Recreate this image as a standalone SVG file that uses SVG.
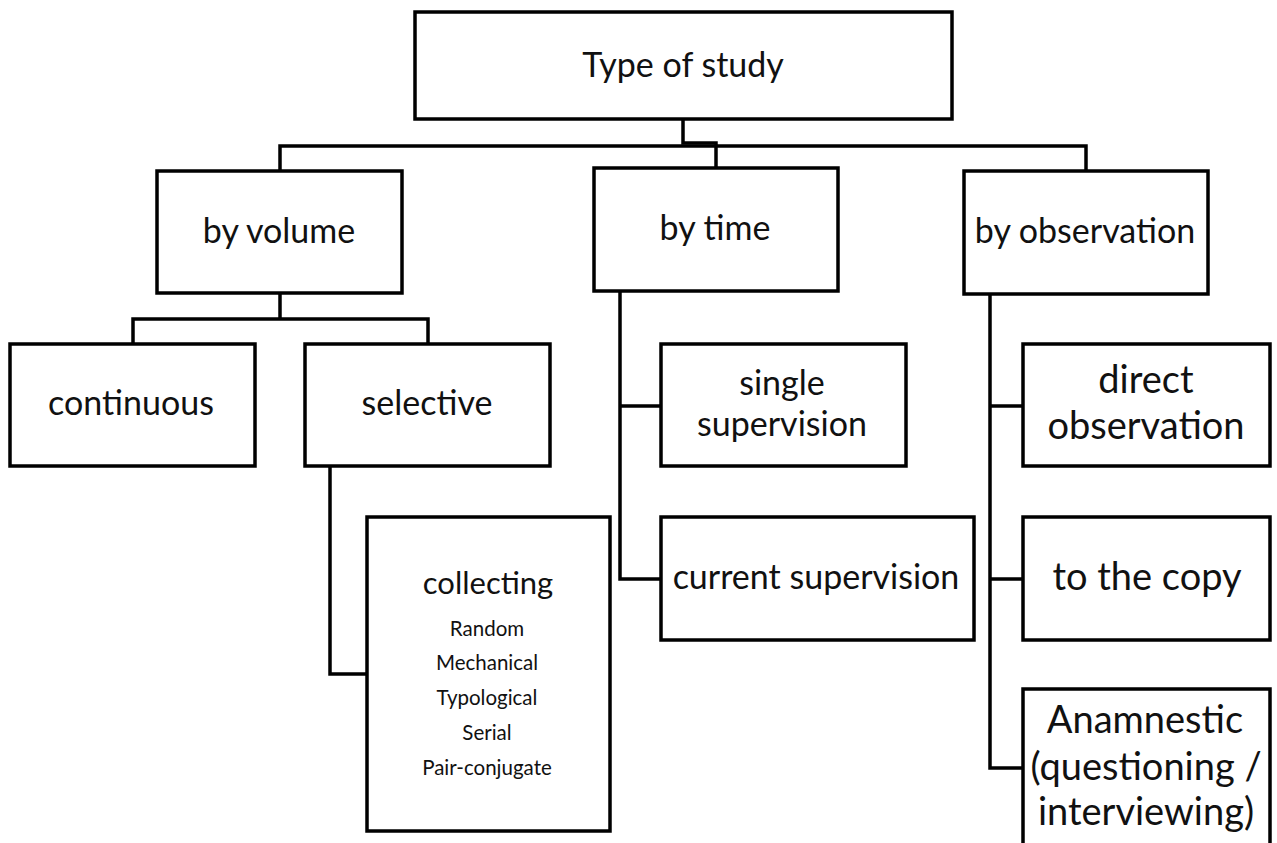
<svg xmlns="http://www.w3.org/2000/svg" width="1277" height="843" viewBox="0 0 1277 843">
  <style>
    .box { fill: #ffffff; stroke: #000000; stroke-width: 3.5; }
    .wire { fill: none; stroke: #000000; stroke-width: 3.5; }
    .t { font-family: Lato, "Open Sans", sans-serif; fill: #111111; text-anchor: middle; }
    .l { font-size: 34px; }
    .m { font-size: 31px; }
    .xl { font-size: 38px; }
    .s { font-size: 20.5px; }
  </style>
  <rect width="1277" height="843" fill="#ffffff"/>

  <!-- connectors -->
  <g id="connectors">
    <path class="wire" d="M683 119 V143 H716 V168"/>
    <path class="wire" d="M280 171 V146 H1086 V171"/>
    <path class="wire" d="M280 293 V319 M133 344 V319 H428 V344"/>
    <path class="wire" d="M330 466 V674 H367"/>
    <path class="wire" d="M620 291 V579 H661 M620 406 H661"/>
    <path class="wire" d="M990 294 V768 H1023 M990 406 H1023 M990 579 H1023"/>
  </g>

  <g id="type-of-study">
    <rect class="box" x="415" y="12" width="537" height="107"/>
    <text class="t l" x="683" y="77">Type of study</text>
  </g>

  <g id="by-volume">
    <rect class="box" x="157" y="171" width="245" height="122"/>
    <text class="t l" x="279" y="243">by volume</text>
  </g>

  <g id="by-time">
    <rect class="box" x="594" y="168" width="244" height="123"/>
    <text class="t l" x="715" y="240">by time</text>
  </g>

  <g id="by-observation">
    <rect class="box" x="964" y="171" width="244" height="123"/>
    <text class="t l" x="1085" y="243">by observation</text>
  </g>

  <g id="continuous">
    <rect class="box" x="10" y="344" width="245" height="122"/>
    <text class="t l" x="131" y="415">continuous</text>
  </g>

  <g id="selective">
    <rect class="box" x="305" y="344" width="245" height="122"/>
    <text class="t l" x="427" y="415">selective</text>
  </g>

  <g id="collecting">
    <rect class="box" x="367" y="517" width="243" height="314"/>
    <text class="t m" x="488" y="594">collecting</text>
    <text class="t s" x="487" y="636">Random</text>
    <text class="t s" x="487" y="670">Mechanical</text>
    <text class="t s" x="487" y="705">Typological</text>
    <text class="t s" x="487" y="740">Serial</text>
    <text class="t s" x="487" y="775">Pair-conjugate</text>
  </g>

  <g id="single-supervision">
    <rect class="box" x="661" y="344" width="245" height="122"/>
    <text class="t l" x="782" y="395">single</text>
    <text class="t l" x="782" y="436">supervision</text>
  </g>

  <g id="current-supervision">
    <rect class="box" x="661" y="517" width="313" height="123"/>
    <text class="t l" x="816" y="589">current supervision</text>
  </g>

  <g id="direct-observation">
    <rect class="box" x="1023" y="344" width="247" height="122"/>
    <text class="t xl" x="1146" y="393">direct</text>
    <text class="t xl" x="1146" y="439">observation</text>
  </g>

  <g id="to-the-copy">
    <rect class="box" x="1023" y="517" width="247" height="123"/>
    <text class="t xl" x="1147" y="590">to the copy</text>
  </g>

  <g id="anamnestic">
    <rect class="box" x="1023" y="689" width="247" height="170"/>
    <text class="t xl" x="1145" y="733">Anamnestic</text>
    <text class="t xl" x="1146" y="780">(questioning /</text>
    <text class="t xl" x="1146" y="825">interviewing)</text>
  </g>
</svg>
